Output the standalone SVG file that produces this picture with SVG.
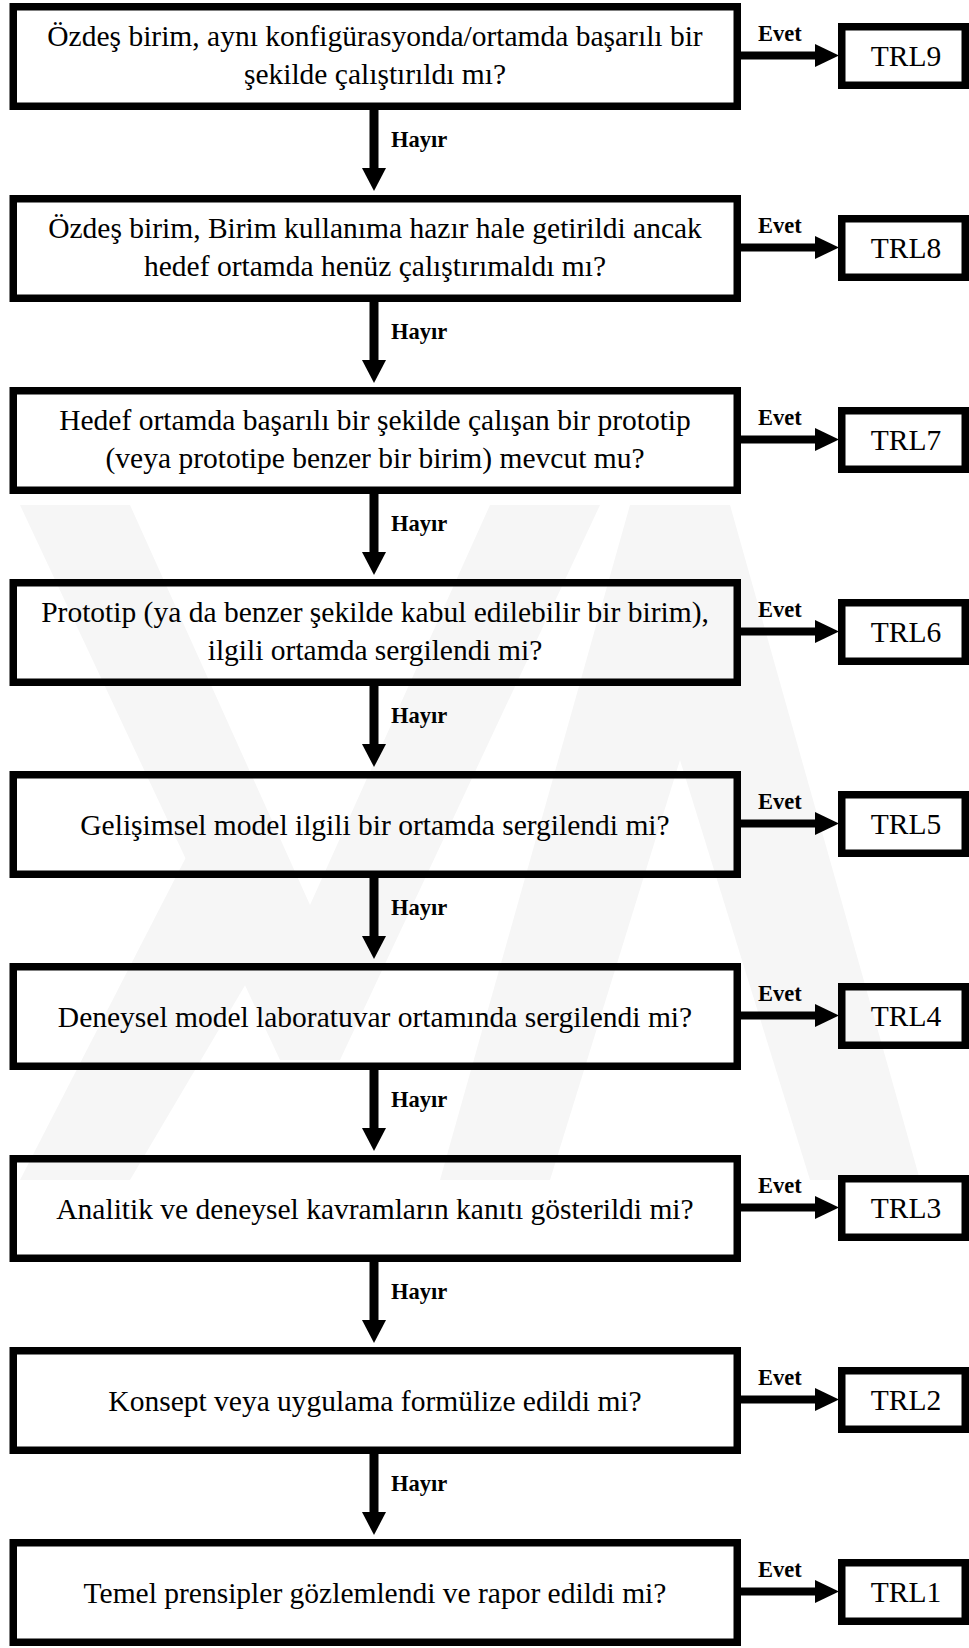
<svg xmlns="http://www.w3.org/2000/svg" width="969" height="1648" viewBox="0 0 969 1648">
  <style>
    .box { fill: none; stroke: #000000; stroke-width: 7.5; }
    .q { font-family: "Liberation Serif", "Times New Roman", serif; font-size: 29.5px; text-anchor: middle; fill: #000000; }
    .lbl { font-family: "Liberation Serif", "Times New Roman", serif; font-size: 22.5px; font-weight: bold; fill: #000000; }
    .shaft { stroke: #000000; fill: none; }
    .wm { fill: #f6f6f6; }
  </style>
  <defs>
    <marker id="headV" markerUnits="userSpaceOnUse" markerWidth="26" markerHeight="24" refX="0" refY="12.5" orient="auto" viewBox="0 0 24 25">
      <path d="M0,0 L24,12.5 L0,25 z" fill="#000000"/>
    </marker>
    <marker id="headH" markerUnits="userSpaceOnUse" markerWidth="24" markerHeight="24" refX="0" refY="11.5" orient="auto" viewBox="0 0 24 23">
      <path d="M0,0 L24,11.5 L0,23 z" fill="#000000"/>
    </marker>
  </defs>

  <rect x="0" y="0" width="969" height="1648" fill="#ffffff"/>

  <!-- faint background emblem -->
  <g id="emblem">
    <polygon class="wm" points="20,505 130,505 310,905 490,505 600,505 340,1060 280,1060"/>
    <polygon class="wm" points="630,505 730,505 920,1180 810,1180 680,760 550,1180 440,1180"/>
    <polygon class="wm" points="200,830 260,960 130,1180 20,1180"/>
  </g>

  <!-- connectors -->
  <g id="connectors">
    <g id="no-links" class="shaft" stroke-width="9">
      <line x1="374" y1="110" x2="374" y2="168" marker-end="url(#headV)"/>
      <line x1="374" y1="302" x2="374" y2="360" marker-end="url(#headV)"/>
      <line x1="374" y1="494" x2="374" y2="552" marker-end="url(#headV)"/>
      <line x1="374" y1="686" x2="374" y2="744" marker-end="url(#headV)"/>
      <line x1="374" y1="878" x2="374" y2="936" marker-end="url(#headV)"/>
      <line x1="374" y1="1070" x2="374" y2="1128" marker-end="url(#headV)"/>
      <line x1="374" y1="1262" x2="374" y2="1320" marker-end="url(#headV)"/>
      <line x1="374" y1="1454" x2="374" y2="1512" marker-end="url(#headV)"/>
    </g>
    <g id="yes-links" class="shaft" stroke-width="8">
      <line x1="741" y1="55.5" x2="815" y2="55.5" marker-end="url(#headH)"/>
      <line x1="741" y1="247.5" x2="815" y2="247.5" marker-end="url(#headH)"/>
      <line x1="741" y1="439.5" x2="815" y2="439.5" marker-end="url(#headH)"/>
      <line x1="741" y1="631.5" x2="815" y2="631.5" marker-end="url(#headH)"/>
      <line x1="741" y1="823.5" x2="815" y2="823.5" marker-end="url(#headH)"/>
      <line x1="741" y1="1015.5" x2="815" y2="1015.5" marker-end="url(#headH)"/>
      <line x1="741" y1="1207.5" x2="815" y2="1207.5" marker-end="url(#headH)"/>
      <line x1="741" y1="1399.5" x2="815" y2="1399.5" marker-end="url(#headH)"/>
      <line x1="741" y1="1591.5" x2="815" y2="1591.5" marker-end="url(#headH)"/>
    </g>
    <g id="labels" class="lbl">
      <text x="758" y="41">Evet</text>
      <text x="758" y="233">Evet</text>
      <text x="758" y="425">Evet</text>
      <text x="758" y="617">Evet</text>
      <text x="758" y="809">Evet</text>
      <text x="758" y="1001">Evet</text>
      <text x="758" y="1193">Evet</text>
      <text x="758" y="1385">Evet</text>
      <text x="758" y="1577">Evet</text>
      <text x="391" y="147">Hayır</text>
      <text x="391" y="339">Hayır</text>
      <text x="391" y="531">Hayır</text>
      <text x="391" y="723">Hayır</text>
      <text x="391" y="915">Hayır</text>
      <text x="391" y="1107">Hayır</text>
      <text x="391" y="1299">Hayır</text>
      <text x="391" y="1491">Hayır</text>
    </g>
  </g>

  <!-- question boxes -->
  <g id="q9">
    <rect class="box" x="13.25" y="6.75" width="724" height="99.5"/>
    <text class="q" x="375" y="46">Özdeş birim, aynı konfigürasyonda/ortamda başarılı bir</text>
    <text class="q" x="375" y="84">şekilde çalıştırıldı mı?</text>
  </g>
  <g id="q8">
    <rect class="box" x="13.25" y="198.75" width="724" height="99.5"/>
    <text class="q" x="375" y="238">Özdeş birim, Birim kullanıma hazır hale getirildi ancak</text>
    <text class="q" x="375" y="276">hedef ortamda henüz çalıştırımaldı mı?</text>
  </g>
  <g id="q7">
    <rect class="box" x="13.25" y="390.75" width="724" height="99.5"/>
    <text class="q" x="375" y="430">Hedef ortamda başarılı bir şekilde çalışan bir prototip</text>
    <text class="q" x="375" y="468">(veya prototipe benzer bir birim) mevcut mu?</text>
  </g>
  <g id="q6">
    <rect class="box" x="13.25" y="582.75" width="724" height="99.5"/>
    <text class="q" x="375" y="622">Prototip (ya da benzer şekilde kabul edilebilir bir birim),</text>
    <text class="q" x="375" y="660">ilgili ortamda sergilendi mi?</text>
  </g>
  <g id="q5">
    <rect class="box" x="13.25" y="774.75" width="724" height="99.5"/>
    <text class="q" x="375" y="835">Gelişimsel model ilgili bir ortamda sergilendi mi?</text>
  </g>
  <g id="q4">
    <rect class="box" x="13.25" y="966.75" width="724" height="99.5"/>
    <text class="q" x="375" y="1027">Deneysel model laboratuvar ortamında sergilendi mi?</text>
  </g>
  <g id="q3">
    <rect class="box" x="13.25" y="1158.75" width="724" height="99.5"/>
    <text class="q" x="375" y="1219">Analitik ve deneysel kavramların kanıtı gösterildi mi?</text>
  </g>
  <g id="q2">
    <rect class="box" x="13.25" y="1350.75" width="724" height="99.5"/>
    <text class="q" x="375" y="1411">Konsept veya uygulama formülize edildi mi?</text>
  </g>
  <g id="q1">
    <rect class="box" x="13.25" y="1542.75" width="724" height="99.5"/>
    <text class="q" x="375" y="1603">Temel prensipler gözlemlendi ve rapor edildi mi?</text>
  </g>

  <!-- result boxes -->
  <g id="trl9">
    <rect class="box" x="841.75" y="26.75" width="123.5" height="58.5"/>
    <text class="q" x="906" y="66">TRL9</text>
  </g>
  <g id="trl8">
    <rect class="box" x="841.75" y="218.75" width="123.5" height="58.5"/>
    <text class="q" x="906" y="258">TRL8</text>
  </g>
  <g id="trl7">
    <rect class="box" x="841.75" y="410.75" width="123.5" height="58.5"/>
    <text class="q" x="906" y="450">TRL7</text>
  </g>
  <g id="trl6">
    <rect class="box" x="841.75" y="602.75" width="123.5" height="58.5"/>
    <text class="q" x="906" y="642">TRL6</text>
  </g>
  <g id="trl5">
    <rect class="box" x="841.75" y="794.75" width="123.5" height="58.5"/>
    <text class="q" x="906" y="834">TRL5</text>
  </g>
  <g id="trl4">
    <rect class="box" x="841.75" y="986.75" width="123.5" height="58.5"/>
    <text class="q" x="906" y="1026">TRL4</text>
  </g>
  <g id="trl3">
    <rect class="box" x="841.75" y="1178.75" width="123.5" height="58.5"/>
    <text class="q" x="906" y="1218">TRL3</text>
  </g>
  <g id="trl2">
    <rect class="box" x="841.75" y="1370.75" width="123.5" height="58.5"/>
    <text class="q" x="906" y="1410">TRL2</text>
  </g>
  <g id="trl1">
    <rect class="box" x="841.75" y="1562.75" width="123.5" height="58.5"/>
    <text class="q" x="906" y="1602">TRL1</text>
  </g>
</svg>
